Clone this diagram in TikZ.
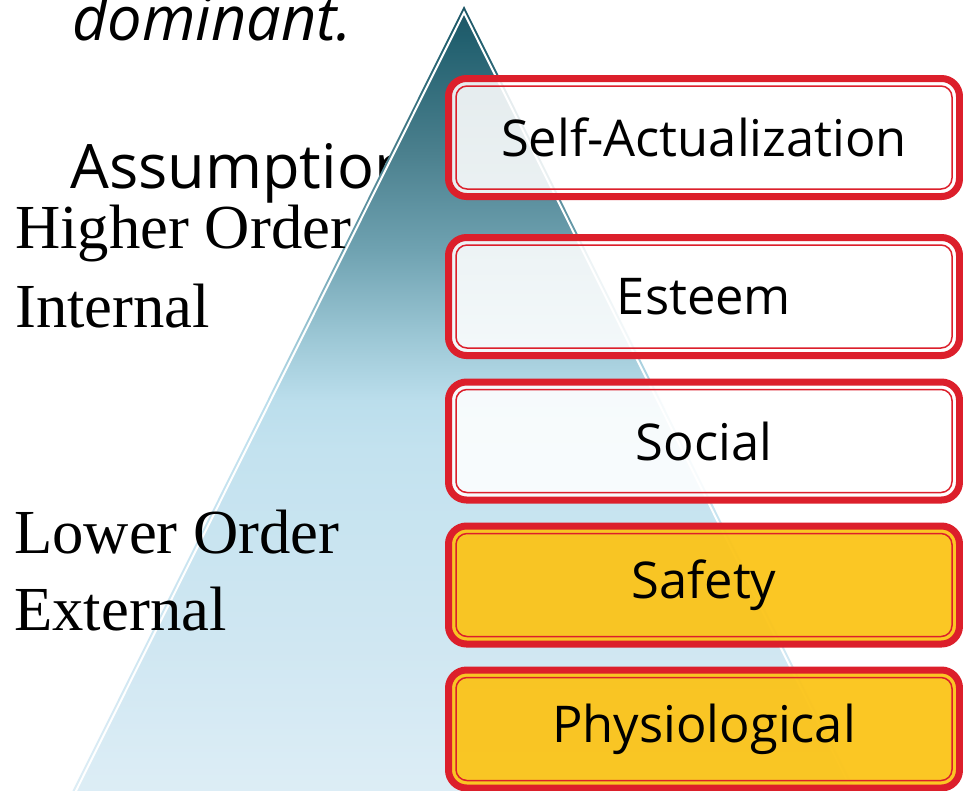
\documentclass[tikz,border=0pt]{standalone}
\usepackage{fontspec}
\newfontfamily\lblfont{Open Sans}
\newfontfamily\trfont{Liberation Serif}
\newdimen\px \px=0.75pt
\definecolor{needred}{HTML}{DC1F2B}
\definecolor{needgold}{HTML}{FBC419}
\definecolor{pA}{HTML}{1D5565}
\definecolor{pB}{HTML}{22606F}
\definecolor{pC}{HTML}{4A7F8D}
\definecolor{pD}{HTML}{6FA2B1}
\definecolor{pE}{HTML}{9DC8D6}
\definecolor{pF}{HTML}{BBDEEC}
\definecolor{pG}{HTML}{C3E2EF}
\definecolor{pH}{HTML}{D0E7F2}
\definecolor{pI}{HTML}{DEEEF6}
\pgfdeclareverticalshading{pyr}{100bp}{color(0bp)=(pI); color(25bp)=(pI); color(34.9bp)=(pH); color(47.3bp)=(pG); color(50.4bp)=(pF); color(54.2bp)=(pE); color(59.8bp)=(pD); color(66bp)=(pC); color(72.9bp)=(pB); color(75bp)=(pA); color(100bp)=(pA)}
\tikzset{
  needbox/.style={draw=needred, line width=7\px, rounded corners=18\px,
    minimum width=511\px, minimum height=118\px, text opacity=1, outer sep=0pt,
    font=\lblfont\fontsize{38}{40}\selectfont, inner sep=0pt},
  whitebox/.style={needbox, fill=white, fill opacity=0.88},
  goldbox/.style={needbox, fill=needgold, fill opacity=0.95},
  innerline/.style={draw=needred, line width=1.5\px, rounded corners=11\px},
  sidetext/.style={anchor=base west, inner sep=0pt, font=\trfont\fontsize{47}{50}\selectfont},
  bigsans/.style={anchor=base west, inner sep=0pt, font=\lblfont\fontsize{46}{48}\selectfont}
}
\begin{document}
\begin{tikzpicture}[x=0.75pt,y=-0.75pt]
\useasboundingbox (0,0) rectangle (963,790);
\clip (0,0) rectangle (963,790);
\fill[white] (0,0) rectangle (963,790);
% texts behind the pyramid
\node[bigsans] (dom) at (72,40) {\itshape dominant.};
\node[bigsans] (assum) at (70,188) {Assumption};
% pyramid
\coordinate (apex) at (464,6);
\coordinate (bl) at (64,808);
\coordinate (br) at (864,808);
\shade[shading=pyr] (apex) -- (bl) -- (br) -- cycle;
\coordinate (iapex) at (464,12.7);
\coordinate (ibl) at (67.4,808);
\coordinate (ibr) at (860.6,808);
\draw[white, line width=2\px] (ibl) -- (iapex) -- (ibr);
% side labels
\node[sidetext] (hi1) at (15,248) {Higher Order};
\node[sidetext] (hi2) at (15,327) {Internal};
\node[sidetext] (lo1) at (14,553) {Lower Order};
\node[sidetext] (lo2) at (14,630) {External};
% need boxes
\node[whitebox] (b1) at (704,137.5) {Self-Actualization};
\node[whitebox] (b2) at (704,296.5) {Esteem};
\node[whitebox] (b3) at (704,441) {Social};
\node[goldbox] (b4) at (704,585) {Safety};
\node[goldbox] (b5) at (704,729) {Physiological};
\foreach \b in {b1,b2,b3,b4,b5}{
  \draw[innerline] ([shift={(7.5,7.5)}]\b.north west) rectangle ([shift={(-7.5,-7.5)}]\b.south east);
}
\end{tikzpicture}
\end{document}
